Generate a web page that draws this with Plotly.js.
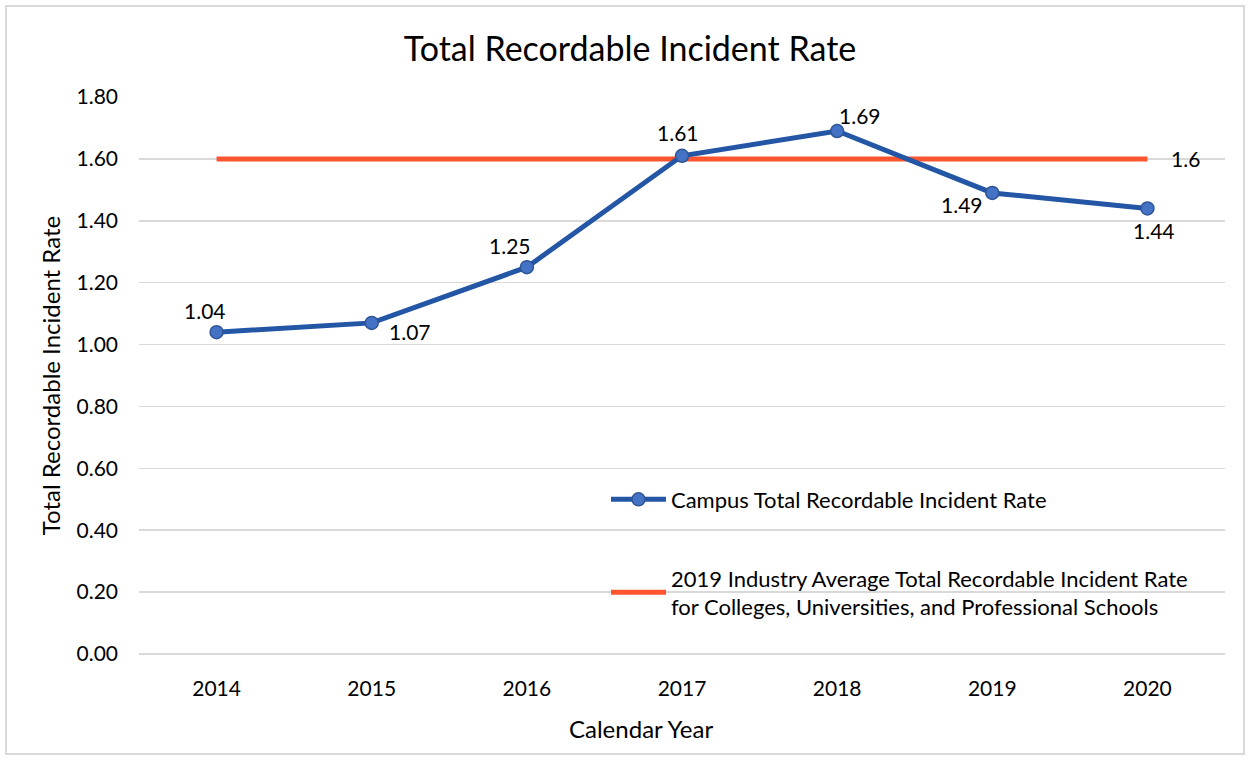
<!DOCTYPE html>
<html>
<head>
<meta charset="utf-8">
<script src="https://cdn.plot.ly/plotly-3.0.1.min.js"></script>
<style>html,body{margin:0;padding:0;background:#fff;}#chart{width:1250px;height:760px;}</style>
</head>
<body>
<div id="chart"></div>
<script>
const years = ['2014', '2015', '2016', '2017', '2018', '2019', '2020'];
const campusRate = [1.04, 1.07, 1.25, 1.61, 1.69, 1.49, 1.44];
const industryRate = [1.6, 1.6, 1.6, 1.6, 1.6, 1.6, 1.6];
const campusLabels = ['1.04', '1.07', '1.25', '1.61', '1.69', '1.49', '1.44'];
const industryLabel = '1.6';
const yTicks = [0, 0.2, 0.4, 0.6, 0.8, 1.0, 1.2, 1.4, 1.6, 1.8];
const xTitle = 'Calendar Year';
const yTitle = 'Total Recordable Incident Rate';

const FONT = 'Lato, "Open Sans", sans-serif';
const labelOffsets = [[-12,-22],[38,9],[-17,-22],[-4,-23],[23,-16],[-30,12],[7,22]];

const annotations = campusRate.map((v, i) => ({
  xref: 'x', yref: 'y',
  x: i, y: v, text: campusLabels[i], showarrow: false,
  xanchor: 'center', yanchor: 'middle',
  xshift: labelOffsets[i][0], yshift: -labelOffsets[i][1],
  font: {family: FONT, size: 21, color: '#000'}
}));
annotations.push({
  xref: 'x', yref: 'y',
  x: years.length - 1, y: industryRate[industryRate.length - 1], text: industryLabel,
  showarrow: false, xanchor: 'center', yanchor: 'middle', xshift: 38, yshift: 0,
  font: {family: FONT, size: 21, color: '#000'}
});
// x-axis title (placed like the original, slightly left of centre)
annotations.push({
  xref: 'paper', yref: 'paper', x: 0.462, y: -0.133, xanchor: 'center', yanchor: 'middle',
  text: xTitle, showarrow: false, font: {family: FONT, size: 24, color: '#000'}
});

const data = [
  {
    x: years, y: industryRate, type: 'scatter', mode: 'lines',
    name: '2019 Industry Average Total Recordable Incident Rate<br>for Colleges, Universities, and Professional Schools',
    legendgroup: 'b', legendrank: 2,
    line: {color: '#fc5530', width: 5}
  },
  {
    x: years, y: campusRate, type: 'scatter', mode: 'lines+markers',
    name: 'Campus Total Recordable Incident Rate', legendgroup: 'a', legendrank: 1,
    line: {color: '#2456a6', width: 5},
    marker: {size: 13, color: '#4472c4', line: {color: '#2f5597', width: 1.5}},
    cliponaxis: false
  }
];

const layout = {
  width: 1250, height: 760,
  paper_bgcolor: '#fff', plot_bgcolor: '#fff',
  margin: {l: 139, r: 25, t: 97, b: 106},
  title: {text: 'Total Recordable Incident Rate', x: 0.504, xanchor: 'center', y: 0.935, yanchor: 'middle',
          font: {family: FONT, size: 34, color: '#000'}},
  font: {family: FONT, size: 21, color: '#000'},
  xaxis: {
    type: 'category', range: [-0.5, 6.5], showgrid: false, zeroline: false,
    showline: false, ticks: '', ticklabelstandoff: 20,
    tickfont: {family: FONT, size: 21, color: '#000'},
    fixedrange: true
  },
  yaxis: {
    range: [0, 1.8], tickvals: yTicks, tickformat: '.2f',
    showgrid: true, gridcolor: '#d9d9d9', gridwidth: 1.5,
    zeroline: true, zerolinecolor: '#d9d9d9', zerolinewidth: 1.5,
    showline: false, ticks: '', ticklabelstandoff: 20,
    tickfont: {family: FONT, size: 21, color: '#000'},
    title: {text: yTitle, font: {family: FONT, size: 24, color: '#000'}, standoff: 9},
    fixedrange: true
  },
  showlegend: true,
  legend: {
    x: 0.43, y: 0.315, xanchor: 'left', yanchor: 'top',
    bgcolor: 'rgba(0,0,0,0)', borderwidth: 0,
    traceorder: 'grouped', tracegroupgap: 47,
    font: {family: FONT, size: 22, color: '#000'},
    itemwidth: 55
  },
  annotations: annotations,
  shapes: [{
    type: 'rect', xref: 'paper', yref: 'paper',
    x0: -0.1225, x1: 1.0175, y0: -0.1795, y1: 1.1634,
    line: {color: '#d9d9d9', width: 2}, fillcolor: 'rgba(0,0,0,0)', layer: 'below'
  }]
};

Plotly.newPlot('chart', data, layout, {displayModeBar: false, staticPlot: true});
</script>
</body>
</html>
